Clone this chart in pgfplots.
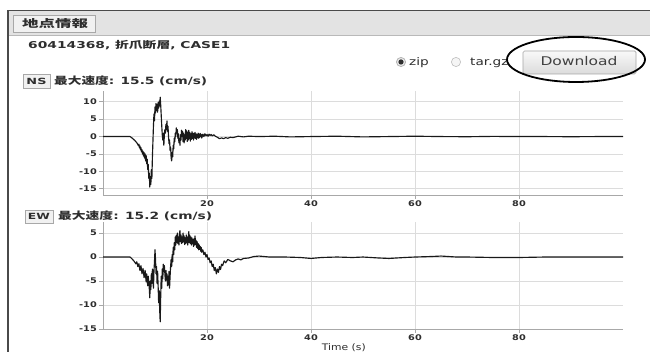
\documentclass[border=0pt]{standalone}
\usepackage{pgfplots}
\pgfplotsset{compat=1.18}
\usepackage{fontspec}
\usepackage{graphicx}
\setmainfont{DejaVu Sans}
\newfontfamily\cjk{Noto Sans CJK JP}
\definecolor{txt}{HTML}{2E2E2E}
\definecolor{hdr}{HTML}{E3E3E3}
\definecolor{tabf}{HTML}{F1F1F1}
\definecolor{frame}{HTML}{4A4A4A}
\definecolor{gridc}{HTML}{DCDCDC}
\definecolor{axc}{HTML}{A8A8A8}
\newcommand\fit[2]{\resizebox{#1}{\height}{#2}}
\newcommand\tl[1]{\scalebox{1.25}[1]{\fontsize{7.8}{8}\selectfont\bfseries #1}}

\pgfplotstableread{
t v
0 0
5.2 0
5.5 -0.3
5.8 -0.7
6.1 -1.1
6.4 -1.6
6.6 -2.0
6.8 -2.6
6.9 -2.2
7.0 -3.2
7.1 -2.7
7.2 -3.8
7.3 -3.2
7.4 -4.4
7.5 -3.8
7.6 -5.0
7.7 -4.2
7.8 -5.6
7.9 -4.6
8.0 -6.2
8.1 -5.0
8.2 -7.0
8.3 -5.5
8.4 -7.8
8.5 -6.5
8.6 -9.5
8.7 -8.0
8.8 -12.0
8.9 -10.5
9.0 -14.5
9.1 -11.5
9.2 -13.8
9.3 -9.5
9.4 -12.0
9.5 -6.0
9.6 -1.5
9.7 3.0
9.8 6.5
9.9 4.5
10.0 8.5
10.1 6.8
10.2 9.5
10.3 7.5
10.4 9.2
10.5 7.0
10.6 9.8
10.7 8.2
10.8 10.2
10.9 8.8
11.0 11.3
11.1 9.0
11.2 6.0
11.3 3.0
11.4 0.5
11.5 -1.0
11.6 1.0
11.7 -2.5
11.8 0.5
11.9 2.0
12.0 1.0
12.1 3.5
12.2 2.0
12.3 4.5
12.4 1.5
12.5 3.0
12.6 0.0
12.7 -2.0
12.8 -1.0
12.9 -4.0
13.0 -3.0
13.1 -6.0
13.2 -7.0
13.3 -4.5
13.4 -5.8
13.5 -2.5
13.6 -3.5
13.7 -0.5
13.8 -1.5
13.9 1.0
14.0 0.0
14.1 2.5
14.2 1.0
14.3 2.0
14.4 -0.5
14.5 0.8
14.6 -1.8
14.7 -0.5
14.8 -2.5
14.9 0.5
15.0 -1.0
15.1 1.8
15.2 0.0
15.3 1.5
15.4 -1.5
15.5 1.0
15.6 -1.8
15.7 0.5
15.8 -1.0
15.9 2.0
16.0 -0.5
16.1 1.6
16.2 -1.4
16.3 1.2
16.4 -1.0
16.5 1.8
16.6 -0.6
16.7 1.2
16.8 -1.3
16.9 0.8
17.0 -0.8
17.1 1.4
17.2 -0.5
17.3 1.0
17.4 -1.0
17.5 0.9
17.6 -0.4
17.7 1.2
17.8 -0.6
17.9 0.8
18.0 -0.8
18.1 0.6
18.2 -0.3
18.3 1.0
18.4 -0.5
18.5 0.7
18.6 -0.2
18.7 0.9
18.8 0.0
18.9 0.6
19.0 -0.4
19.2 0.7
19.4 0.0
19.6 0.8
19.8 0.2
20.0 0.6
20.2 0.1
20.4 0.7
20.6 0.3
20.8 0.6
21.0 0.2
21.3 0.5
21.6 0.1
22.0 -0.2
22.4 -0.6
22.8 -0.4
23.2 -0.6
23.6 -0.3
24.0 -0.5
24.5 -0.2
25 -0.3
26 0.1
27 -0.1
28 0.1
30 0
33 0.1
36 -0.1
40 0
45 0.1
50 -0.1
55 0
60 0.1
65 0
70 -0.05
75 0.05
80 0
85 0
90 -0.05
95 0
100 0
}\ns

\pgfplotstableread{
t v
0 0
5.2 0
5.6 -0.4
6.0 -0.9
6.3 -1.4
6.5 -1.0
6.7 -2.0
6.9 -1.4
7.1 -2.8
7.3 -1.8
7.5 -3.5
7.7 -2.4
7.9 -4.3
8.1 -2.8
8.3 -5.2
8.4 -3.5
8.6 -6.0
8.7 -4.0
8.9 -6.5
9.0 -8.5
9.1 -5.0
9.2 -6.8
9.3 -3.5
9.4 -5.5
9.5 -2.5
9.6 -4.8
9.7 -6.5
9.8 -3.0
9.9 -1.0
10.0 1.5
10.1 -0.5
10.2 -3.5
10.3 -2.0
10.4 -5.5
10.5 -3.0
10.6 -6.0
10.7 -9.5
10.8 -7.0
10.9 -11.0
11.0 -13.5
11.1 -8.0
11.2 -4.0
11.3 -6.5
11.4 -2.5
11.5 -4.5
11.6 -1.5
11.7 -3.0
11.8 -1.8
11.9 -3.5
12.0 -5.0
12.1 -2.8
12.2 -4.8
12.3 -3.5
12.4 -6.0
12.5 -4.0
12.6 -5.8
12.7 -3.0
12.8 -6.5
12.9 -4.0
13.0 -2.0
13.1 -0.5
13.2 -2.0
13.3 0.5
13.4 -1.0
13.5 2.0
13.6 0.5
13.7 3.0
13.8 1.5
13.9 4.2
14.0 2.5
14.1 4.5
14.2 3.0
14.3 5.0
14.4 2.8
14.5 4.2
14.6 2.5
14.7 4.8
14.8 5.5
14.9 3.2
15.0 4.6
15.1 2.8
15.2 4.2
15.3 3.0
15.4 5.0
15.5 3.2
15.6 4.4
15.7 2.6
15.8 4.0
15.9 2.8
16.0 4.6
16.1 3.0
16.2 4.2
16.3 2.5
16.4 3.8
16.5 5.3
16.6 3.0
16.7 4.5
16.8 2.8
16.9 4.2
17.0 2.5
17.1 4.0
17.2 2.8
17.3 3.6
17.4 2.2
17.5 3.8
17.6 2.5
17.7 4.4
17.8 2.6
17.9 3.5
18.0 2.0
18.1 3.2
18.2 1.8
18.3 2.8
18.4 1.5
18.5 2.5
18.6 1.6
18.7 2.2
18.8 1.2
18.9 2.0
19.0 1.0
19.2 1.5
19.4 0.5
19.6 1.0
19.8 0.0
20.0 0.5
20.2 -0.5
20.4 -0.2
20.6 -1.2
20.8 -0.8
21.0 -2.0
21.2 -1.5
21.4 -2.8
21.6 -2.2
21.8 -3.5
22.0 -2.5
22.2 -3.2
22.4 -2.0
22.6 -2.6
22.8 -1.5
23.0 -1.8
23.3 -0.8
23.6 -1.2
24.0 -0.5
24.5 -0.8
25.0 -1.0
25.5 -0.6
26.0 -0.4
26.5 -0.6
27.0 -0.3
28 -0.2
29 0.1
30 0.2
32 0
35 0
38 -0.1
40 -0.3
42 -0.1
45 0
48 -0.1
50 0
53 -0.2
55 -0.3
58 -0.1
60 0
63 0.1
65 0.2
68 0
70 0
75 -0.1
80 -0.1
85 0
90 0
95 0
100 0
}\ew

\pgfplotsset{
  wave/.style={
    scale only axis, width=520pt,
    xmin=0, xmax=100,
    axis x line*=bottom, axis y line*=left,
    axis line style={axc, line width=0.8pt},
    grid=major, grid style={gridc, line width=0.6pt},
    tick style={axc, line width=0.6pt},
    tick align=outside, major tick length=4pt,
    xtick={20,40,60,80},
    xticklabels={\tl{20},\tl{40},\tl{60},\tl{80}},
    xticklabel style={text=txt, inner sep=1.5pt},
    yticklabel style={text=txt, inner sep=2pt},
    clip=true,
  }
}

\begin{document}
\begin{tikzpicture}[x=1pt,y=1pt]
\path[use as bounding box] (0,0) rectangle (650,352);
\fill[white] (0,0) rectangle (650,352);
% window frame and header
\fill[hdr] (8.75,340.5) rectangle (650,317);
\draw[frame, line width=1.5pt] (8,0) -- (8,341.5) -- (650,341.5);
\draw[gray!55, line width=0.6pt] (8.75,317) -- (650,317);
\draw[axc, fill=tabf, line width=0.6pt] (13,337) rectangle (95,320);
\node[text=txt, inner sep=0] at (55,328.5) {\fit{66pt}{\cjk\fontsize{10.5}{11}\selectfont\bfseries 地点情報}};
% title
\node[text=txt, anchor=west, inner sep=0] at (28,307) {\fit{202pt}{\fontsize{9.5}{10}\selectfont\bfseries 60414368, {\cjk 折爪断層}, CASE1}};
% NS label
\draw[axc, fill=tabf, line width=0.6pt] (23,278) rectangle (50,264);
\node[text=txt, inner sep=0] at (36.5,271) {\fit{20pt}{\fontsize{8.5}{9}\selectfont\bfseries NS}};
\node[text=txt, anchor=west, inner sep=0] at (54,271) {\fit{153pt}{\fontsize{10}{10}\selectfont\bfseries {\cjk 最大速度}: 15.5 (cm/s)}};
% EW label
\draw[axc, fill=tabf, line width=0.6pt] (25,142) rectangle (53,129);
\node[text=txt, inner sep=0] at (39,135.5) {\fit{22pt}{\fontsize{8.5}{9}\selectfont\bfseries EW}};
\node[text=txt, anchor=west, inner sep=0] at (58,136) {\fit{154pt}{\fontsize{10}{10}\selectfont\bfseries {\cjk 最大速度}: 15.2 (cm/s)}};
% radio buttons
\draw[gray!60, fill=gray!20, line width=0.7pt] (401,290) circle (4.6);
\fill[txt] (401,290) circle (2.6);
\node[text=txt, anchor=west, inner sep=0] at (409,289.5) {\scalebox{1.3}[1]{\fontsize{10.5}{11}\selectfont zip}};
\draw[gray!50, fill=gray!8, line width=0.6pt] (456,290) circle (4.6);
\node[text=txt, anchor=west, inner sep=0] at (470,289.5) {\scalebox{1.3}[1]{\fontsize{10.5}{11}\selectfont tar.gz}};
% download button
\draw[gray!70, top color=gray!5, bottom color=gray!28, line width=0.7pt, rounded corners=1.5pt] (523,301) rectangle (636,278);
\node[text=black!75, inner sep=0] at (579,290.5) {\fit{77pt}{\fontsize{12}{12}\selectfont Download}};
\draw[black, line width=1.8pt] (576,292.5) ellipse (69 and 22.5);

% NS axis
\begin{axis}[wave, at={(103pt,157pt)}, anchor=south west, height=104pt,
  ymin=-16.8, ymax=13.1,
  ytick={10,5,0,-5,-10,-15},
  yticklabels={\tl{10},\tl{5},\tl{0},\tl{-5},\tl{-10},\tl{-15}}]
\addplot[black!90, line width=1.15pt, line join=round] table[x=t,y=v] {\ns};
\end{axis}

% EW axis
\begin{axis}[wave, at={(103pt,23pt)}, anchor=south west, height=107pt,
  ymin=-15, ymax=7.3,
  ytick={5,0,-5,-10,-15},
  yticklabels={\tl{5},\tl{0},\tl{-5},\tl{-10},\tl{-15}},
  xlabel={\scalebox{1.2}[1]{\fontsize{9}{9}\selectfont Time (s)}},
  xlabel style={text=txt, at={(axis description cs:0.463,0)}, anchor=north, yshift=-11pt}]
\addplot[black!90, line width=1.15pt, line join=round] table[x=t,y=v] {\ew};
\end{axis}
\end{tikzpicture}
\end{document}
